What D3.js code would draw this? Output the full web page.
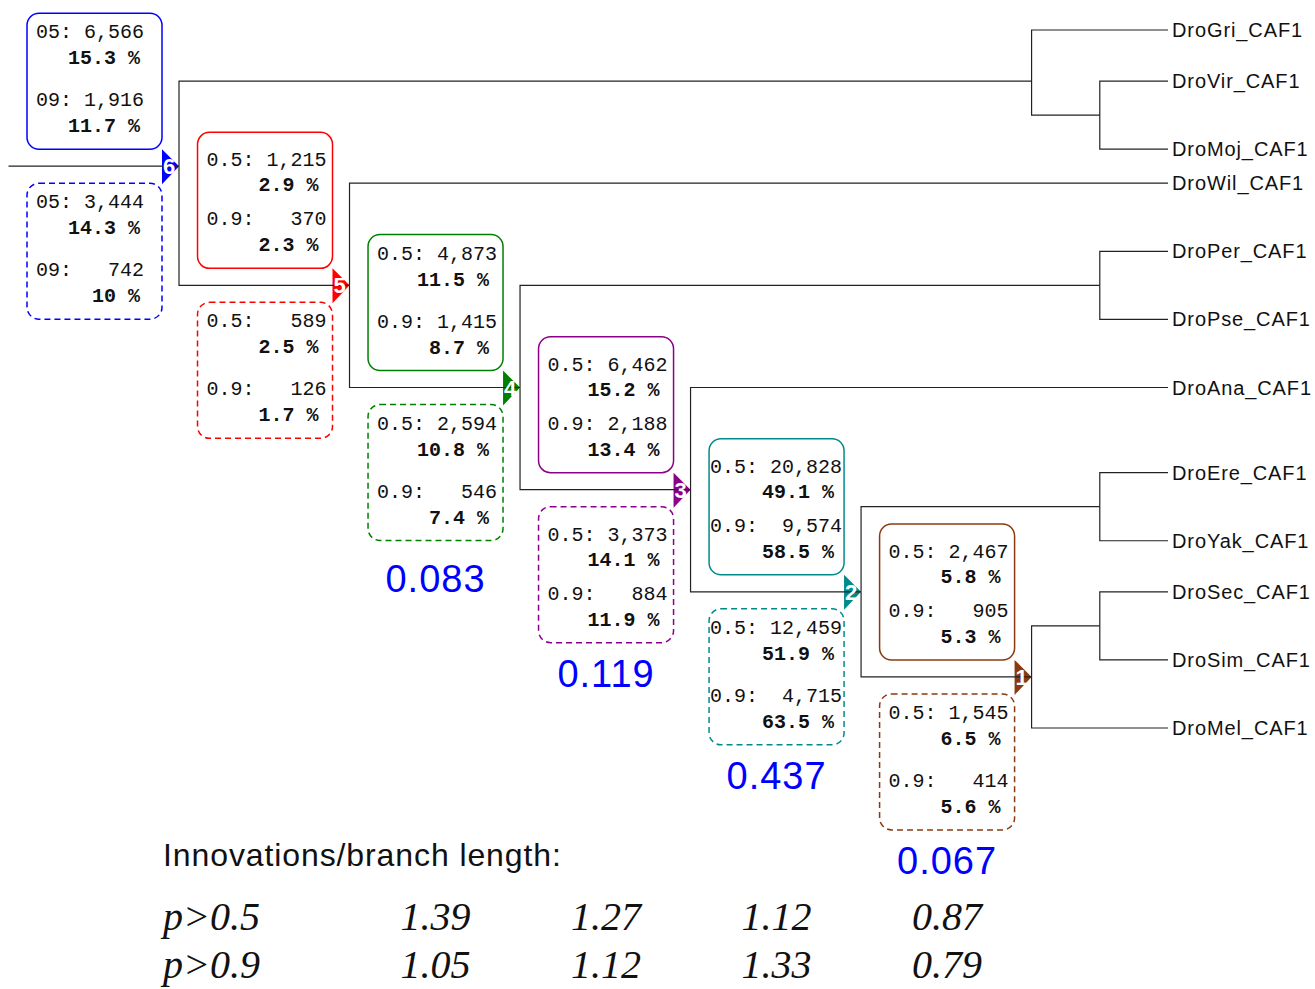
<!DOCTYPE html>
<html>
<head>
<meta charset="utf-8">
<script src="https://cdn.jsdelivr.net/npm/d3@7"></script>
<style>
  html, body { margin: 0; padding: 0; background: #fff; }
  svg { display: block; }
  .mono { font-family: "Liberation Mono", "Courier New", monospace; white-space: pre; }
</style>
</head>
<body>
<svg id="chart" width="1315" height="989"></svg>
<script>
// ---------------- DATA ----------------
// Tree topology (cladogram): node id, parent id, column (depth units), row (leaf-row units)
const nodeIds     = ["n6", "cDro", "DroGri_CAF1", "cVirMoj", "DroVir_CAF1", "DroMoj_CAF1",
                     "n5", "DroWil_CAF1", "n4", "cPerPse", "DroPer_CAF1", "DroPse_CAF1",
                     "n3", "DroAna_CAF1", "n2", "cEreYak", "DroEre_CAF1", "DroYak_CAF1",
                     "n1", "cSecSim", "DroSec_CAF1", "DroSim_CAF1", "DroMel_CAF1"];
const nodeParents = ["", "n6", "cDro", "cDro", "cVirMoj", "cVirMoj",
                     "n6", "n5", "n5", "n4", "cPerPse", "cPerPse",
                     "n4", "n3", "n3", "n2", "cEreYak", "cEreYak",
                     "n2", "n1", "cSecSim", "cSecSim", "n1"];
const nodeCols    = [0, 50, 58, 54, 58, 58,
                     10, 58, 20, 54, 58, 58,
                     30, 58, 40, 54, 58, 58,
                     50, 54, 58, 58, 58];
const nodeRows    = [8, 3, 0, 5, 3, 7,
                     15, 9, 21, 15, 13, 17,
                     27, 21, 33, 28, 26, 30,
                     38, 35, 33, 37, 41];
const rootStubCol = -10;

// Numbered ancestral nodes (6 = oldest ... 1 = youngest)
const numberedNodes = ["n6", "n5", "n4", "n3", "n2", "n1"];
const nodeNumbers   = [6, 5, 4, 3, 2, 1];
const nodeColors    = ["#0000ff", "#ff0000", "#008000", "#8b008b", "#008b8b", "#8b3a0f"];
const thresholdLabels = [["05", "09"], ["0.5", "0.9"], ["0.5", "0.9"], ["0.5", "0.9"], ["0.5", "0.9"], ["0.5", "0.9"]];

// Solid boxes
const solidCount05 = [6566, 1215, 4873, 6462, 20828, 2467];
const solidPct05   = [15.3, 2.9, 11.5, 15.2, 49.1, 5.8];
const solidCount09 = [1916, 370, 1415, 2188, 9574, 905];
const solidPct09   = [11.7, 2.3, 8.7, 13.4, 58.5, 5.3];
// Dashed boxes
const dashedCount05 = [3444, 589, 2594, 3373, 12459, 1545];
const dashedPct05   = [14.3, 2.5, 10.8, 14.1, 51.9, 6.5];
const dashedCount09 = [742, 126, 546, 884, 4715, 414];
const dashedPct09   = [10, 1.7, 7.4, 11.9, 63.5, 5.6];

// Per-branch blue ratios (nodes 4..1)
const ratioNodes  = ["n4", "n3", "n2", "n1"];
const branchRatio = [0.083, 0.119, 0.437, 0.067];

// Innovations / branch length table
const innovTitle   = "Innovations/branch length:";
const innovRowLabels = ["p>0.5", "p>0.9"];
const innovP05 = [1.39, 1.27, 1.12, 0.87];
const innovP09 = [1.05, 1.12, 1.33, 0.79];

// ---------------- STYLE / LAYOUT ----------------
const solidSpread  = ["high", "low", "high", "low", "low", "low"];
const dashedSpread = ["high", "high", "high", "low", "high", "high"];
const ratioExtra   = [7, 0, 0, 0];

// ---------------- DRAW ----------------
const svg = d3.select("#chart");
const x = d3.scaleLinear().domain([0, 58]).range([179, 1168]);
const y = d3.scaleLinear().domain([0, 41]).range([30, 728]);

const table = nodeIds.map((id, i) => ({ id, parent: nodeParents[i], col: nodeCols[i], row: nodeRows[i] }));
const root = d3.stratify().id(d => d.id).parentId(d => d.parent || null)(table);
const byId = new Map(root.descendants().map(d => [d.id, d]));
const px = d => x(d.data.col), py = d => y(d.data.row);

// node triangles (below lines)
const markers = numberedNodes.map((id, i) => ({ n: byId.get(id), num: nodeNumbers[i], color: nodeColors[i], i }));
svg.append("g").selectAll("path").data(markers).join("path")
  .attr("d", m => {
    const cx = px(m.n), cy = py(m.n);
    return `M${cx - 17},${cy - 17}L${cx},${cy}L${cx - 17},${cy + 18}Z`;
  })
  .attr("fill", m => m.color);

// tree branches
const lineG = svg.append("g").attr("fill", "none").attr("stroke", "#222").attr("stroke-width", 1.2);
lineG.selectAll("path").data(root.links()).join("path")
  .attr("d", l => `M${px(l.source)},${py(l.source)}V${py(l.target)}H${px(l.target)}`);
lineG.append("path").attr("d", `M${x(rootStubCol)},${py(root)}H${px(root)}`);

// node numbers
svg.append("g").selectAll("text").data(markers).join("text")
  .attr("x", m => px(m.n) - 10).attr("y", m => py(m.n) + 8)
  .attr("text-anchor", "middle")
  .attr("font-family", "Liberation Sans, Arial, sans-serif").attr("font-weight", "bold")
  .attr("font-size", 22).attr("fill", "#fff")
  .text(m => m.num);

// leaf labels
svg.append("g").selectAll("text").data(root.leaves()).join("text")
  .attr("x", d => px(d) + 4).attr("y", d => py(d) + 7)
  .attr("font-family", "Liberation Sans, Arial, sans-serif").attr("font-size", 20)
  .attr("letter-spacing", 0.9).attr("fill", "#111")
  .text(d => d.id);

// boxes
const fmtCount = d3.format(",");
const CH = 12; // monospace advance at 20px
function drawBox(i, dashed) {
  const n = byId.get(numberedNodes[i]);
  const cx = px(n), cy = py(n);
  const left = cx - 152, top = dashed ? cy + 17 : cy - 153;
  const counts = dashed ? [dashedCount05[i], dashedCount09[i]] : [solidCount05[i], solidCount09[i]];
  const pcts = dashed ? [dashedPct05[i], dashedPct09[i]] : [solidPct05[i], solidPct09[i]];
  const spread = (dashed ? dashedSpread : solidSpread)[i];
  const g = svg.append("g");
  g.append("rect").attr("x", left).attr("y", top).attr("width", 135).attr("height", 136)
    .attr("rx", 12).attr("fill", "none").attr("stroke", nodeColors[i]).attr("stroke-width", 1.5)
    .attr("stroke-dasharray", dashed ? "6,4" : null);
  const w = Math.max(5, ...counts.map(c => fmtCount(c).length));
  const offs = spread === "high" ? [25, 51, 93, 119] : [34, 59, 93, 119];
  counts.forEach((c, k) => {
    const s = thresholdLabels[i][k] + ": " + fmtCount(c).padStart(w);
    const sx = left + (s.length > 10 ? 1 : 9);
    const end = sx + s.length * CH;
    g.append("text").attr("class", "mono").attr("xml:space", "preserve")
      .attr("x", sx).attr("y", top + offs[k * 2]).attr("font-size", 20).attr("fill", "#111")
      .text(s);
    g.append("text").attr("class", "mono").attr("xml:space", "preserve")
      .attr("x", end - 8 + (s.length < 10 ? 4 : 0)).attr("y", top + offs[k * 2 + 1]).attr("text-anchor", "end")
      .attr("font-size", 20).attr("font-weight", "bold").attr("fill", "#111")
      .text(String(pcts[k]) + " %");
  });
}
for (let i = 0; i < numberedNodes.length; i++) { drawBox(i, false); drawBox(i, true); }

// blue ratios
const fmt3 = d3.format(".3f");
svg.append("g").selectAll("text").data(ratioNodes).join("text")
  .attr("x", (id) => px(byId.get(id)) - 84.5)
  .attr("y", (id, k) => py(byId.get(id)) + 153 + 44 + ratioExtra[k])
  .attr("text-anchor", "middle")
  .attr("font-family", "Liberation Sans, Arial, sans-serif").attr("font-size", 38)
  .attr("letter-spacing", 1).attr("fill", "#0000ff")
  .text((id, k) => fmt3(branchRatio[k]));

// innovations table
svg.append("text").attr("x", 163).attr("y", 866)
  .attr("font-family", "Liberation Sans, Arial, sans-serif").attr("font-size", 32)
  .attr("letter-spacing", 0.9).attr("fill", "#111").text(innovTitle);

const fmt2 = d3.format(".2f");
const rowsY = [930, 978];
[innovP05, innovP09].forEach((vals, r) => {
  const g = svg.append("g").attr("font-family", "Liberation Serif, Times New Roman, serif")
    .attr("font-style", "italic").attr("font-size", 40).attr("fill", "#111");
  g.append("text").attr("x", 163).attr("y", rowsY[r]).text(innovRowLabels[r]);
  g.selectAll("text.v").data(vals).join("text").attr("class", "v")
    .attr("x", (v, k) => px(byId.get(ratioNodes[k])) - 84.5).attr("y", rowsY[r])
    .attr("text-anchor", "middle").text(v => fmt2(v));
});
</script>
</body>
</html>
